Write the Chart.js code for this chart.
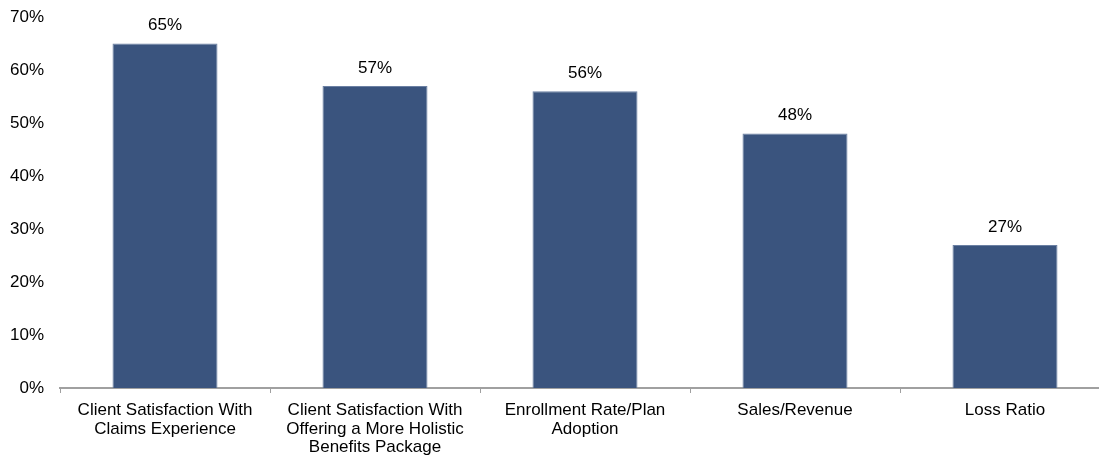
<!DOCTYPE html>
<html>
<head>
<meta charset="utf-8">
<script src="https://cdn.jsdelivr.net/npm/chart.js@4.4.1/dist/chart.umd.min.js"></script>
<style>
  html, body { margin: 0; padding: 0; background: #fff; overflow: hidden; }
  #wrap { position: relative; width: 1112px; height: 456px; }
</style>
</head>
<body>
<div id="wrap"><canvas id="c"></canvas></div>
<script>
// Categories (multi-line labels) and their percentages
const categories = [
  ["Client Satisfaction With", "Claims Experience"],
  ["Client Satisfaction With", "Offering a More Holistic", "Benefits Package"],
  ["Enrollment Rate/Plan", "Adoption"],
  ["Sales/Revenue"],
  ["Loss Ratio"]
];
const values = [65, 57, 56, 48, 27];
const yTicks = [0, 10, 20, 30, 40, 50, 60, 70];

const FONT = "'Liberation Sans', Arial, sans-serif";

// Percentage labels above each bar
const valueLabels = {
  id: 'valueLabels',
  afterDatasetsDraw(chart) {
    const ctx = chart.ctx;
    const meta = chart.getDatasetMeta(0);
    ctx.save();
    ctx.font = "17px " + FONT;
    ctx.fillStyle = '#000';
    ctx.textAlign = 'center';
    ctx.textBaseline = 'middle';
    meta.data.forEach((bar, i) => {
      ctx.fillText(values[i] + '%', bar.x, bar.y - 18);
    });
    ctx.restore();
  }
};

new Chart(document.getElementById('c'), {
  type: 'bar',
  data: {
    labels: categories,
    datasets: [{
      data: values,
      backgroundColor: '#3a547e',
      borderColor: '#6b80a3',
      borderWidth: 1,
      categoryPercentage: 1.0,
      barPercentage: 0.5
    }]
  },
  options: {
    responsive: true,
    maintainAspectRatio: false,
    animation: false,
    layout: { padding: { top: 17, right: 2, left: 0, bottom: 0 } },
    plugins: { legend: { display: false }, tooltip: { enabled: false } },
    scales: {
      x: {
        offset: true,
        grid: {
          display: true,
          drawOnChartArea: false,
          drawTicks: true,
          tickLength: 5,
          color: '#a0a0a0',
          offset: true
        },
        border: { display: true, color: '#a0a0a0', width: 2 },
        ticks: {
          color: '#000',
          font: { family: FONT, size: 17, lineHeight: 1.1 },
          maxRotation: 0,
          minRotation: 0,
          autoSkip: false,
          padding: 8
        },
        afterFit(scale) {
          scale.height = 68;
          scale.paddingLeft = 0;
          scale.paddingRight = 0;
        }
      },
      y: {
        min: 0,
        max: 70,
        afterBuildTicks(scale) { scale.ticks = yTicks.map(v => ({ value: v })); },
        grid: { display: false, drawTicks: false },
        border: { display: false },
        ticks: {
          color: '#000',
          font: { family: FONT, size: 17 },
          padding: 16,
          callback: v => v + '%'
        },
        afterFit(scale) {
          scale.width = 60;
          scale.paddingTop = 0;
          scale.paddingBottom = 0;
        }
      }
    }
  },
  plugins: [valueLabels]
});
</script>
</body>
</html>
